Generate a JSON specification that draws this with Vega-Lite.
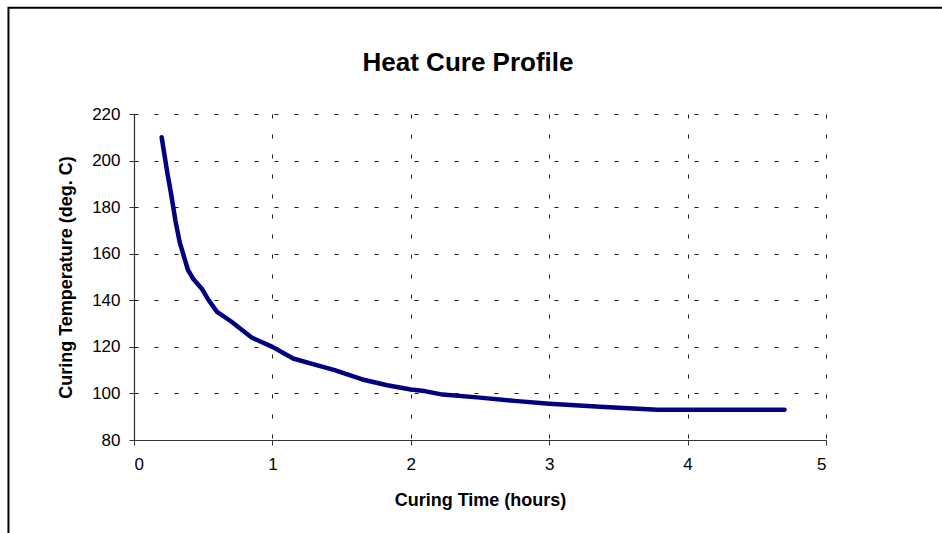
{
  "$schema": "https://vega.github.io/schema/vega-lite/v6.json",
  "autosize": "none",
  "width": 692,
  "height": 326,
  "padding": {"left": 134, "top": 114, "right": 116, "bottom": 93},
  "background": "white",
  "config": {
    "font": "Liberation Sans",
    "view": {"stroke": null},
    "axis": {
      "grid": true,
      "gridColor": "black",
      "gridDash": [4, 16],
      "gridWidth": 1,
      "gridOpacity": 0.9,
      "domainColor": "#333333",
      "domainWidth": 1.2,
      "tickColor": "#333333",
      "tickSize": 5,
      "labelFont": "Liberation Sans",
      "labelFontSize": 17,
      "labelColor": "black",
      "titleFont": "Liberation Sans",
      "titleFontSize": 18,
      "titleFontWeight": "bold",
      "titleColor": "black"
    }
  },
  "title": {
    "text": "Heat Cure Profile",
    "font": "Liberation Sans",
    "fontSize": 26,
    "fontWeight": "bold",
    "color": "black",
    "anchor": "middle",
    "frame": "group",
    "dx": -12,
    "offset": -69
  },
  "layer": [
    {
      "data": {"values": [{"id": 1}]},
      "mark": {"type": "rect", "filled": false, "stroke": "black", "strokeWidth": 2, "clip": false},
      "encoding": {
        "x": {"datum": -0.907, "type": "quantitative", "scale": {"domain": [0, 5], "nice": false}},
        "x2": {"datum": 7},
        "y": {"datum": 265.6, "type": "quantitative", "scale": {"domain": [80, 220], "nice": false}},
        "y2": {"datum": 20}
      }
    },
    {
      "data": {
        "values": [
          {"time": 0.2, "temp": 210},
          {"time": 0.24, "temp": 195},
          {"time": 0.27, "temp": 185},
          {"time": 0.3, "temp": 174},
          {"time": 0.33, "temp": 165},
          {"time": 0.36, "temp": 159},
          {"time": 0.39, "temp": 153},
          {"time": 0.43, "temp": 149},
          {"time": 0.49, "temp": 145},
          {"time": 0.54, "temp": 140},
          {"time": 0.6, "temp": 135},
          {"time": 0.7, "temp": 131},
          {"time": 0.85, "temp": 124},
          {"time": 1.0, "temp": 120},
          {"time": 1.15, "temp": 115},
          {"time": 1.3, "temp": 112.5},
          {"time": 1.45, "temp": 110},
          {"time": 1.65, "temp": 106},
          {"time": 1.83, "temp": 103.5},
          {"time": 2.0, "temp": 101.7},
          {"time": 2.1, "temp": 101},
          {"time": 2.23, "temp": 99.5},
          {"time": 2.5, "temp": 98.2},
          {"time": 2.75, "temp": 96.8},
          {"time": 3.0, "temp": 95.6},
          {"time": 3.4, "temp": 94.2},
          {"time": 3.78, "temp": 93},
          {"time": 4.0, "temp": 93},
          {"time": 4.7, "temp": 93}
        ]
      },
      "mark": {"type": "line", "color": "#000080", "strokeWidth": 4.5, "strokeCap": "round", "strokeJoin": "round"},
      "encoding": {
        "x": {
          "field": "time",
          "type": "quantitative",
          "scale": {"domain": [0, 5], "nice": false},
          "axis": {"title": "Curing Time (hours)", "values": [0, 1, 2, 3, 4, 5], "format": "d", "labelPadding": 11, "titlePadding": 19}
        },
        "y": {
          "field": "temp",
          "type": "quantitative",
          "scale": {"domain": [80, 220], "nice": false},
          "axis": {"title": "Curing Temperature (deg. C)", "values": [80, 100, 120, 140, 160, 180, 200, 220], "labelPadding": 9, "titlePadding": 16}
        }
      }
    }
  ]
}
